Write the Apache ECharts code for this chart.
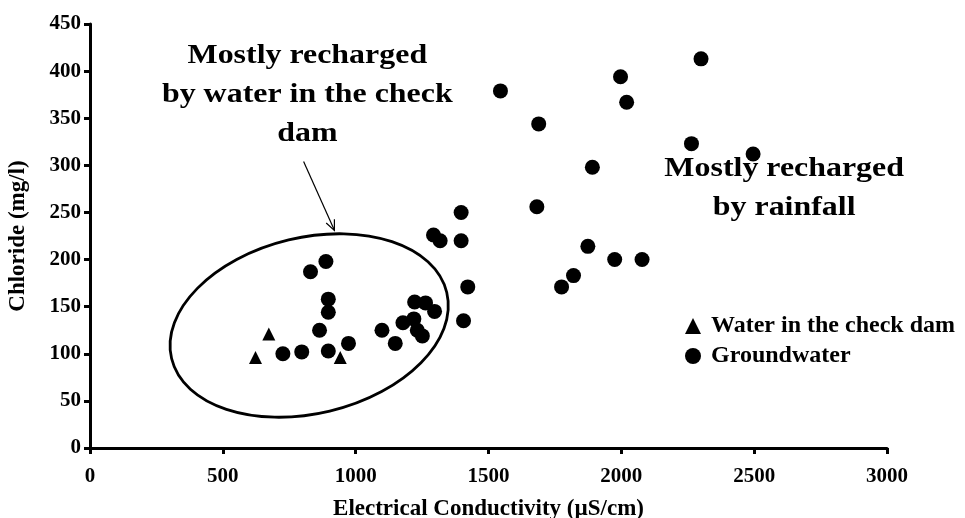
<!DOCTYPE html>
<html>
<head>
<meta charset="utf-8">
<script src="https://cdn.jsdelivr.net/npm/echarts@6/dist/echarts.min.js"></script>
<style>
html,body{margin:0;padding:0;background:#fff;}
#c{width:965px;height:518px;}
</style>
</head>
<body>
<div id="c"></div>
<script>
// ---- data ----
const damEC = [623, 673, 942];
const damCl = [96, 121, 96];
const gwEC = [726, 797, 897, 973, 864, 897, 897, 830, 888,
              1099, 1149, 1178, 1219, 1222, 1263, 1297, 1232, 1251,
              1422, 1406, 1397, 1397, 1293, 1318,
              1545, 1997, 2300, 2020, 1689, 2264, 2496, 1891, 1682, 1874, 1975, 2078, 1820, 1775];
const gwCl = [100, 102, 103, 111, 125, 144, 158, 187, 198,
              125, 111, 133, 137, 155, 154, 145, 125, 119,
              171, 135, 220, 250, 226, 220,
              379, 394, 413, 367, 344, 323, 312, 298, 256, 214, 200, 200, 183, 171];
const xTicks = [0, 500, 1000, 1500, 2000, 2500, 3000];
const yTicks = [0, 50, 100, 150, 200, 250, 300, 350, 400, 450];
const seriesNames = ['Water in the check dam', 'Groundwater'];
const xTitle = 'Electrical Conductivity (µS/cm)';
const yTitle = 'Chloride (mg/l)';
const noteLeft = 'Mostly recharged\nby water in the check\ndam';
const noteRight = 'Mostly recharged\nby rainfall';

const FONT = '"Liberation Serif", "Times New Roman", serif';
const chart = echarts.init(document.getElementById('c'));
const zip = (a, b) => a.map((v, i) => [v, b[i]]);

const axisCommon = {
  axisLine: {show: true, lineStyle: {color: '#000', width: 3}},
  axisTick: {show: true, inside: false, length: 6, lineStyle: {color: '#000', width: 3}},
  splitLine: {show: false},
  axisLabel: {color: '#000', fontFamily: FONT, fontWeight: 'bold', fontSize: 21,
              formatter: v => String(v)}
};

chart.setOption({
  animation: false,
  backgroundColor: '#fff',
  grid: {left: 90, right: 78, top: 24, bottom: 70, containLabel: false, outerBoundsMode: 'none'},
  xAxis: Object.assign({}, axisCommon, {
    type: 'value', min: xTicks[0], max: xTicks[xTicks.length - 1], interval: xTicks[1] - xTicks[0],
    name: xTitle, nameLocation: 'middle', nameGap: 50,
    nameTextStyle: {color: '#000', fontFamily: FONT, fontWeight: 'bold', fontSize: 23},
    axisLabel: Object.assign({}, axisCommon.axisLabel, {margin: 18})
  }),
  yAxis: Object.assign({}, axisCommon, {
    type: 'value', min: yTicks[0], max: yTicks[yTicks.length - 1], interval: yTicks[1] - yTicks[0],
    name: yTitle, nameLocation: 'middle', nameGap: 60, nameRotate: 90,
    nameTextStyle: {color: '#000', fontFamily: FONT, fontWeight: 'bold', fontSize: 23},
    axisLabel: Object.assign({}, axisCommon.axisLabel, {margin: 9})
  }),
  legend: {
    orient: 'vertical', left: 680, top: 309,
    itemWidth: 16, itemHeight: 16, itemGap: 6,
    textStyle: {color: '#000', fontFamily: FONT, fontWeight: 'bold', fontSize: 24, padding: [0, 0, 0, 5]},
    data: [
      {name: seriesNames[0], icon: 'triangle'},
      {name: seriesNames[1], icon: 'circle'}
    ]
  },
  series: [
    {name: seriesNames[0], type: 'scatter', symbol: 'triangle', symbolSize: 13,
     itemStyle: {color: '#000', opacity: 1}, data: zip(damEC, damCl)},
    {name: seriesNames[1], type: 'scatter', symbol: 'circle', symbolSize: 15,
     itemStyle: {color: '#000', opacity: 1}, data: zip(gwEC, gwCl)}
  ]
});

// annotations (positions expressed in data units, converted through the axes)
function px(p) { return chart.convertToPixel({gridIndex: 0}, p); }
const ellC = px([825, 130]);
const noteL = px([818, 375]);
const noteR = px([2613, 276]);
const arrS = px([804, 304]);
const arrE = px([920, 231]);
const ang = Math.atan2(arrE[1] - arrS[1], arrE[0] - arrS[0]);
const hl = 11, ha = 0.42;
const head = [
  [arrE[0] - hl * Math.cos(ang - ha), arrE[1] - hl * Math.sin(ang - ha)],
  [arrE[0], arrE[1]],
  [arrE[0] - hl * Math.cos(ang + ha), arrE[1] - hl * Math.sin(ang + ha)]
];

function txt(pos, text) {
  return {
    type: 'text', x: pos[0], y: pos[1], scaleX: 1.14, z: 100,
    style: {text: text, font: 'bold 28px ' + FONT, fill: '#000',
            textAlign: 'center', textVerticalAlign: 'middle', align: 'center', verticalAlign: 'middle',
            lineHeight: 39}
  };
}

chart.setOption({
  graphic: [
    {type: 'ellipse', x: ellC[0], y: ellC[1], rotation: 13.5 * Math.PI / 180,
     shape: {cx: 0, cy: 0, rx: 141.5, ry: 88},
     style: {fill: 'none', stroke: '#000', lineWidth: 2.8}, z: 100},
    {type: 'line', shape: {x1: arrS[0], y1: arrS[1], x2: arrE[0], y2: arrE[1]},
     style: {stroke: '#000', lineWidth: 1.2}, z: 100},
    {type: 'polyline', shape: {points: head},
     style: {stroke: '#000', lineWidth: 1.2, fill: 'none'}, z: 100},
    txt(noteL, noteLeft),
    txt(noteR, noteRight)
  ]
});
</script>
</body>
</html>
